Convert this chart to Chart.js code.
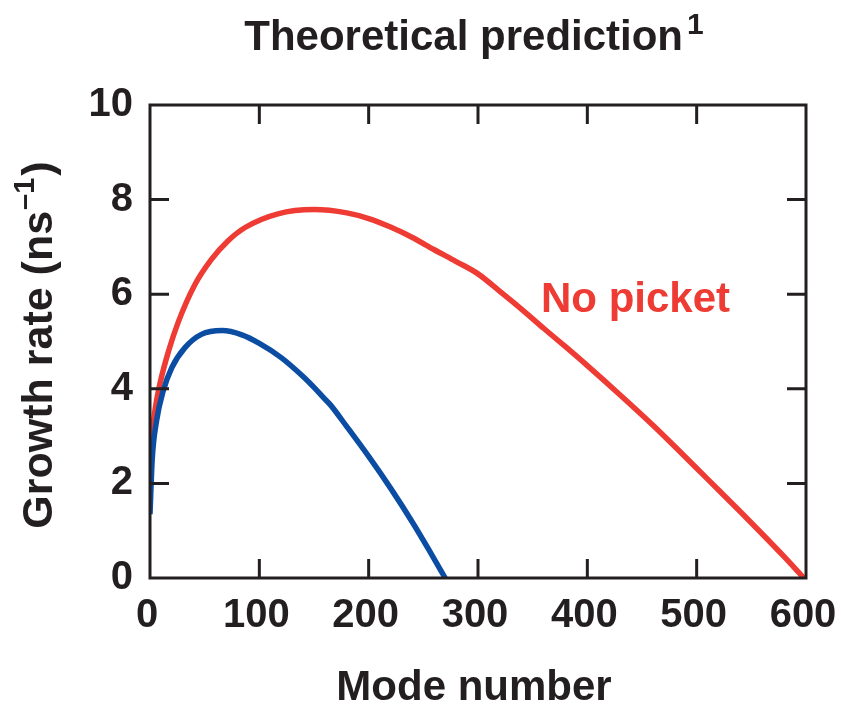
<!DOCTYPE html>
<html>
<head>
<meta charset="utf-8">
<script src="https://cdn.jsdelivr.net/npm/chart.js@4/dist/chart.umd.min.js"></script>
<style>
  html, body { margin: 0; padding: 0; background: #ffffff; }
  canvas { display: block; }
</style>
</head>
<body>
<canvas id="growth" width="841" height="705"></canvas>
<script>
// Growth rate vs. mode number (theoretical prediction)
const modeNoPicket = [0, 1.5, 4.6, 9, 17, 26, 41, 56, 71, 87, 117, 150, 180, 200, 220, 240, 260, 280, 300, 320, 340, 360, 380, 400, 430, 460, 480, 500, 520, 540, 560, 580, 598];
const rateNoPicket = [2.2, 2.9, 3.55, 4.1, 4.8, 5.42, 6.2, 6.73, 7.12, 7.41, 7.7, 7.79, 7.72, 7.6, 7.42, 7.2, 6.94, 6.69, 6.43, 6.06, 5.68, 5.28, 4.89, 4.49, 3.87, 3.23, 2.78, 2.32, 1.86, 1.4, 0.93, 0.45, 0];

const modePicket = [0, 2, 6, 12, 20, 32, 47, 66, 84, 100, 120, 140, 150, 160, 165, 180, 200, 220, 240, 255, 270];
const ratePicket = [1.35, 2.5, 3.32, 3.95, 4.45, 4.87, 5.15, 5.23, 5.14, 4.96, 4.66, 4.26, 4.03, 3.78, 3.66, 3.2, 2.57, 1.9, 1.18, 0.6, 0];

const xTickValues = [0, 100, 200, 300, 400, 500, 600];
const yTickValues = [0, 2, 4, 6, 8, 10];

const INK = '#231f20';
const RED = '#ee3b33';
const BLUE = '#0b4da2';
const FAMILY = '"Liberation Sans", Arial, Helvetica, sans-serif';
const font = size => `bold ${size}px ${FAMILY}`;

const toPoints = (xs, ys) => xs.map((x, i) => ({ x, y: ys[i] }));

// Closed frame with inward-pointing ticks on all four sides
const framePlugin = {
  id: 'frame',
  afterDatasetsDraw(chart) {
    const { ctx, chartArea: a, scales: { x, y } } = chart;
    const len = 19;
    ctx.save();
    ctx.strokeStyle = INK;
    ctx.lineWidth = 3;
    ctx.lineCap = 'butt';
    ctx.strokeRect(a.left, a.top, a.right - a.left, a.bottom - a.top);
    ctx.beginPath();
    xTickValues.slice(1, -1).forEach(v => {
      const px = x.getPixelForValue(v);
      ctx.moveTo(px, a.bottom); ctx.lineTo(px, a.bottom - len);
      ctx.moveTo(px, a.top); ctx.lineTo(px, a.top + len);
    });
    yTickValues.slice(1, -1).forEach(v => {
      const py = y.getPixelForValue(v);
      ctx.moveTo(a.left, py); ctx.lineTo(a.left + len, py);
      ctx.moveTo(a.right, py); ctx.lineTo(a.right - len, py);
    });
    ctx.stroke();
    ctx.restore();
  }
};

// Title, axis titles with superscripts, and the curve annotation
const textPlugin = {
  id: 'texts',
  afterDraw(chart) {
    const { ctx } = chart;
    ctx.save();
    ctx.textAlign = 'left';
    ctx.textBaseline = 'alphabetic';
    ctx.fillStyle = INK;

    // Title with superscript reference mark
    const title = 'Theoretical prediction';
    ctx.font = font(42);
    const tw = ctx.measureText(title).width;
    ctx.font = font(30);
    const sw = ctx.measureText('1').width;
    const tLeft = 474 - (tw + 4 + sw) / 2;
    ctx.font = font(42);
    ctx.fillText(title, tLeft, 50);
    ctx.font = font(30);
    ctx.fillText('1', tLeft + tw + 4, 34);

    // X axis title
    ctx.font = font(42);
    ctx.textAlign = 'center';
    ctx.fillText('Mode number', 474, 700);

    // Y axis title, rotated, with superscript unit exponent
    ctx.save();
    ctx.translate(52, 345);
    ctx.rotate(-Math.PI / 2);
    ctx.textAlign = 'left';
    const partA = 'Growth rate (ns';
    const partSup = '\u20131';
    const partC = ')';
    ctx.font = font(43);
    const wa = ctx.measureText(partA).width;
    const wc = ctx.measureText(partC).width;
    ctx.font = font(29);
    const ws = ctx.measureText(partSup).width;
    const start = -(wa + ws + 3 + wc) / 2;
    ctx.font = font(43);
    ctx.fillText(partA, start, 0);
    ctx.font = font(29);
    ctx.fillText(partSup, start + wa + 1, -18);
    ctx.font = font(43);
    ctx.fillText(partC, start + wa + ws + 3, 0);
    ctx.restore();

    // Curve annotation
    ctx.textAlign = 'left';
    ctx.fillStyle = RED;
    ctx.font = font(42);
    ctx.fillText('No picket', 541, 312);
    ctx.restore();
  }
};

new Chart(document.getElementById('growth'), {
  type: 'scatter',
  data: {
    datasets: [
      {
        label: 'Picket',
        data: toPoints(modePicket, ratePicket),
        showLine: true,
        borderColor: BLUE,
        borderWidth: 5.5,
        pointRadius: 0,
        cubicInterpolationMode: 'monotone',
        fill: false
      },
      {
        label: 'No picket',
        data: toPoints(modeNoPicket, rateNoPicket),
        showLine: true,
        borderColor: RED,
        borderWidth: 5.5,
        pointRadius: 0,
        cubicInterpolationMode: 'monotone',
        fill: false
      }
    ]
  },
  options: {
    responsive: false,
    animation: false,
    events: [],
    layout: { padding: { top: 105, right: 35, left: 0, bottom: 0 } },
    plugins: {
      legend: { display: false },
      title: { display: false },
      tooltip: { enabled: false }
    },
    scales: {
      x: {
        type: 'linear',
        min: 0,
        max: 600,
        afterFit: s => { s.height = 127; s.paddingLeft = 0; s.paddingRight = 0; },
        afterBuildTicks: s => { s.ticks = xTickValues.map(v => ({ value: v })); },
        grid: { display: false, drawTicks: false },
        border: { display: false },
        ticks: {
          color: INK,
          font: { family: FAMILY, size: 40, weight: 'bold' },
          padding: 14,
          labelOffset: -3,
          maxRotation: 0,
          autoSkip: false
        }
      },
      y: {
        type: 'linear',
        min: 0,
        max: 10,
        afterFit: s => { s.width = 150; s.paddingTop = 0; s.paddingBottom = 0; },
        afterBuildTicks: s => { s.ticks = yTickValues.map(v => ({ value: v })); },
        grid: { display: false, drawTicks: false },
        border: { display: false },
        ticks: {
          color: INK,
          font: { family: FAMILY, size: 40, weight: 'bold' },
          padding: 17,
          autoSkip: false
        }
      }
    }
  },
  plugins: [framePlugin, textPlugin]
});
</script>
</body>
</html>
